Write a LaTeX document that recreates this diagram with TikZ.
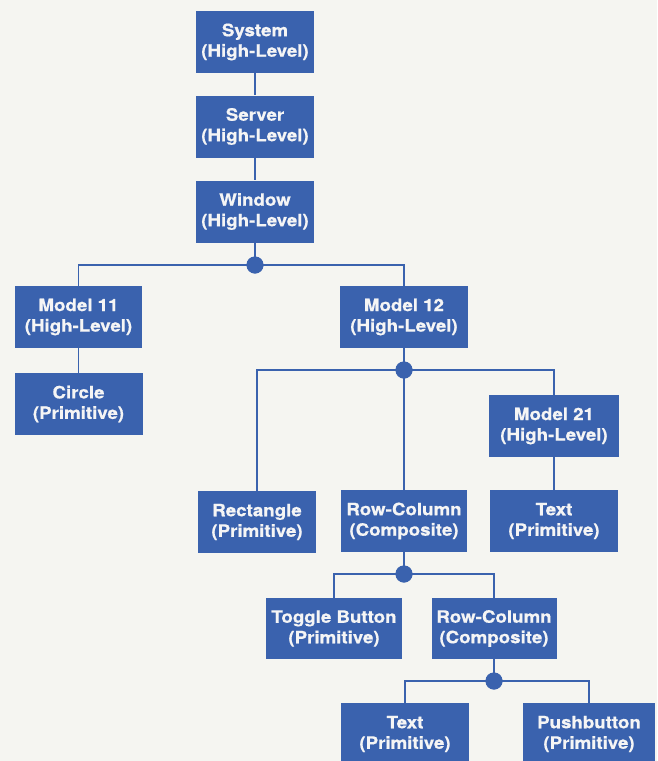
\documentclass[tikz,border=0pt]{standalone}
\usepackage{fontspec}
\newfontfamily\boxfont{TeX Gyre Heros}[FakeStretch=1.1, BoldFeatures={FakeBold=0.7}]
\definecolor{boxblue}{RGB}{58,98,174}
\definecolor{paper}{RGB}{245,245,241}
\begin{document}
\begin{tikzpicture}[x=1pt,y=-1pt,
  objbox/.style={fill=boxblue, text=white!96!black, inner sep=0pt,
    minimum height=62pt, align=center,
    font=\boxfont\bfseries\fontsize{17}{20.5}\selectfont},
  link/.style={draw=boxblue, line width=1.4pt},
  joint/.style={fill=boxblue, draw=none, circle, minimum size=17pt, inner sep=0pt}]
  % page
  \fill[paper] (0,0) rectangle (657,761);
  \useasboundingbox (0,0) rectangle (657,761);
  \clip (0,0) rectangle (657,761);

  % object boxes
  \node[objbox, minimum width=118pt] (sys) at (255,42)    {System\\(High-Level)};
  \node[objbox, minimum width=118pt] (srv) at (255,126.5) {Server\\(High-Level)};
  \node[objbox, minimum width=118pt] (win) at (255,211.5) {Window\\(High-Level)};
  \node[objbox, minimum width=127pt] (m11) at (78.5,317)  {Model 11\\(High-Level)};
  \node[objbox, minimum width=128pt] (m12) at (404,317)   {Model 12\\(High-Level)};
  \node[objbox, minimum width=128pt] (cir) at (78.5,404)  {Circle\\(Primitive)};
  \node[objbox, minimum width=130pt] (m21) at (554,426)   {Model 21\\(High-Level)};
  \node[objbox, minimum width=118pt] (rect) at (257,522)  {Rectangle\\(Primitive)};
  \node[objbox, minimum width=126pt] (rc1) at (404,521)   {Row-Column\\(Composite)};
  \node[objbox, minimum width=128pt] (txt1) at (554,521)  {Text\\(Primitive)};
  \node[objbox, minimum width=136pt, minimum height=61pt] (tog) at (334,628.5) {Toggle Button\\(Primitive)};
  \node[objbox, minimum width=125pt, minimum height=61pt] (rc2) at (494,628.5) {Row-Column\\(Composite)};
  \node[objbox, minimum width=128pt] (txt2) at (405,734)  {Text\\(Primitive)};
  \node[objbox, minimum width=132pt] (push) at (589,734)  {Pushbutton\\(Primitive)};

  % junction points
  \node[joint] (j1) at (255,265) {};
  \node[joint] (j2) at (404,370) {};
  \node[joint] (j3) at (404,574) {};
  \node[joint] (j4) at (494,681) {};

  % connectors
  \draw[link] (sys) -- (srv);
  \draw[link] (srv) -- (win);
  \draw[link] (win) -- (j1.center);
  \draw[link] (m11.north) |- (j1.center) -| (m12.north);
  \draw[link] (m11) -- (cir);
  \draw[link] (m12) -- (j2.center);
  \draw[link] (rect.north) |- (j2.center) -| (m21.north);
  \draw[link] (j2.center) -- (rc1.north);
  \draw[link] (m21) -- (txt1);
  \draw[link] (rc1) -- (j3.center);
  \draw[link] (tog.north) |- (j3.center) -| (rc2.north);
  \draw[link] (rc2) -- (j4.center);
  \draw[link] (txt2.north) |- (j4.center) -| (push.north);

  % dots on top of the line ends
  \foreach \j in {j1,j2,j3,j4} \fill[boxblue] (\j) circle (8.5pt);
\end{tikzpicture}
\end{document}
